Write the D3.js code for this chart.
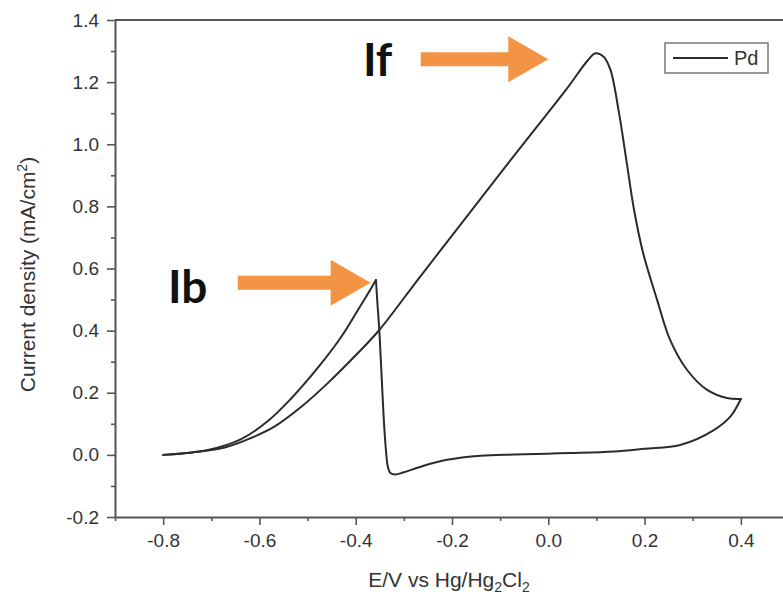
<!DOCTYPE html>
<html>
<head>
<meta charset="utf-8">
<script src="https://cdn.jsdelivr.net/npm/d3@7/dist/d3.min.js"></script>
<style>
  html, body { margin: 0; padding: 0; background: #fff; }
  svg { display: block; }
  .tick text { font-family: "Liberation Sans", Arial, sans-serif; fill: #333; }
</style>
</head>
<body>
<script>
// Cyclic voltammogram of a Pd electrode: potential (V vs Hg/Hg2Cl2) and current density (mA/cm2)
const forwardE = [-0.800, -0.740, -0.674, -0.618, -0.569, -0.513, -0.458, -0.396, -0.351, -0.272,
                  -0.190, -0.109, -0.030, 0.039, 0.081, 0.098, 0.115, 0.129, 0.147, 0.163,
                  0.178, 0.197, 0.226, 0.253, 0.288, 0.330, 0.371, 0.400];
const forwardJ = [0.000, 0.008, 0.023, 0.054, 0.091, 0.155, 0.231, 0.327, 0.402, 0.562,
                  0.726, 0.888, 1.044, 1.180, 1.268, 1.293, 1.282, 1.240, 1.100, 0.940,
                  0.790, 0.650, 0.499, 0.370, 0.274, 0.209, 0.183, 0.180];

const reverseE = [0.400, 0.378, 0.344, 0.274, 0.200, 0.136, 0.050, -0.002, -0.070, -0.140,
                  -0.210, -0.265, -0.300, -0.318, -0.328, -0.333, -0.338, -0.342, -0.347, -0.351,
                  -0.355, -0.358, -0.375, -0.396, -0.431, -0.479, -0.535, -0.583, -0.639, -0.707,
                  -0.800];
const reverseJ = [0.180, 0.123, 0.080, 0.032, 0.020, 0.011, 0.006, 0.004, 0.001, -0.003,
                  -0.016, -0.038, -0.056, -0.063, -0.058, -0.040, 0.030, 0.123, 0.280, 0.402,
                  0.490, 0.563, 0.518, 0.465, 0.378, 0.280, 0.180, 0.108, 0.050, 0.016,
                  0.000];

const xMajorTicks = [-0.8, -0.6, -0.4, -0.2, 0.0, 0.2, 0.4];
const xMinorTicks = [-0.9, -0.7, -0.5, -0.3, -0.1, 0.1, 0.3];
const yMajorTicks = [-0.2, 0.0, 0.2, 0.4, 0.6, 0.8, 1.0, 1.2, 1.4];
const yMinorTicks = [-0.1, 0.1, 0.3, 0.5, 0.7, 0.9, 1.1, 1.3];

const seriesName = "Pd";

// Peak annotations, anchored in data units
const peakLabels = [
  { text: "If", labelE: -0.385, labelJ: 1.22, fromE: -0.265, toE: 0.0, arrowJ: 1.274 },
  { text: "Ib", labelE: -0.790, labelJ: 0.49, fromE: -0.645, toE: -0.369, arrowJ: 0.554 }
];

const W = 783, H = 601;
const svg = d3.select("body").append("svg").attr("width", W).attr("height", H);

const x = d3.scaleLinear().domain([-0.9, 0.5]).range([115, 789]);
const y = d3.scaleLinear().domain([-0.2, 1.4]).range([517, 20]);

const axisColor = "#555";
const tickFont = 19;
const fmt = d => d3.format(".1f")(d).replace("−", "-");

// Frame top edge
svg.append("line")
  .attr("x1", x(-0.9)).attr("x2", W + 10)
  .attr("y1", y(1.4)).attr("y2", y(1.4))
  .attr("stroke", axisColor).attr("stroke-width", 2);

// Bottom axis
const gx = svg.append("g").attr("transform", `translate(0,${y(-0.2)})`);
gx.call(d3.axisBottom(x).tickValues(xMajorTicks).tickSize(8).tickSizeOuter(0).tickPadding(9)
  .tickFormat(fmt));
gx.selectAll(".tick text").attr("font-size", tickFont);
const gxm = svg.append("g").attr("transform", `translate(0,${y(-0.2)})`);
gxm.call(d3.axisBottom(x).tickValues(xMinorTicks).tickSize(4).tickSizeOuter(0).tickFormat(""));
gxm.select(".domain").remove();

// Left axis
const gy = svg.append("g").attr("transform", `translate(${x(-0.9)},0)`);
gy.call(d3.axisLeft(y).tickValues(yMajorTicks).tickSize(8).tickSizeOuter(0).tickPadding(8)
  .tickFormat(fmt));
gy.selectAll(".tick text").attr("font-size", tickFont);
const gym = svg.append("g").attr("transform", `translate(${x(-0.9)},0)`);
gym.call(d3.axisLeft(y).tickValues(yMinorTicks).tickSize(4).tickSizeOuter(0).tickFormat(""));
gym.select(".domain").remove();

svg.selectAll(".domain").attr("stroke", axisColor).attr("stroke-width", 2);
svg.selectAll(".tick line").attr("stroke", axisColor).attr("stroke-width", 1.6);

// Axis titles
const xTitle = svg.append("text")
  .attr("x", (x(-0.9) + W) / 2).attr("y", 587)
  .attr("text-anchor", "middle")
  .attr("font-family", "Liberation Sans, Arial, sans-serif")
  .attr("font-size", 21).attr("fill", "#333");
xTitle.append("tspan").text("E/V vs Hg/Hg");
xTitle.append("tspan").attr("font-size", 14).attr("dy", 5).text("2");
xTitle.append("tspan").attr("dy", -5).text("Cl");
xTitle.append("tspan").attr("font-size", 14).attr("dy", 5).text("2");

const yTitle = svg.append("text")
  .attr("transform", `translate(35,${(y(1.4) + y(-0.2)) / 2 + 6}) rotate(-90)`)
  .attr("text-anchor", "middle")
  .attr("font-family", "Liberation Sans, Arial, sans-serif")
  .attr("font-size", 21).attr("fill", "#333");
yTitle.append("tspan").text("Current density (mA/cm");
yTitle.append("tspan").attr("font-size", 14).attr("dy", -8).text("2");
yTitle.append("tspan").attr("dy", 8).text(")");

// Voltammogram curve: forward scan, then the reverse scan split at the Ib peak
const line = d3.line().x(d => x(d[0])).y(d => y(d[1])).curve(d3.curveCatmullRom.alpha(0.5));
const fwd = forwardE.map((e, i) => [e, forwardJ[i]]);
const rev = reverseE.map((e, i) => [e, reverseJ[i]]);
const ibIndex = d3.maxIndex(reverseJ);
const segments = [fwd, rev.slice(0, ibIndex + 1), rev.slice(ibIndex)];
svg.append("g").selectAll("path").data(segments).join("path")
  .attr("d", line)
  .attr("fill", "none").attr("stroke", "#2b2b2b").attr("stroke-width", 2)
  .attr("stroke-linejoin", "round").attr("stroke-linecap", "round");

// Legend
const lg = svg.append("g");
lg.append("rect").attr("x", 665).attr("y", 43).attr("width", 103).attr("height", 30)
  .attr("fill", "#fff").attr("stroke", "#777").attr("stroke-width", 1.5);
lg.append("line").attr("x1", 673).attr("x2", 728).attr("y1", 58).attr("y2", 58)
  .attr("stroke", "#2b2b2b").attr("stroke-width", 2);
lg.append("text").attr("x", 734).attr("y", 65)
  .attr("font-family", "Liberation Sans, Arial, sans-serif")
  .attr("font-size", 20).attr("fill", "#333").text(seriesName);

// Peak arrows and labels
const arrowColor = "#f29443";
const headLen = 40, headHalf = 23, shaftHalf = 7;
peakLabels.forEach(p => {
  const x0 = x(p.fromE), x1 = x(p.toE), yy = y(p.arrowJ);
  const pts = [
    [x0, yy - shaftHalf], [x1 - headLen, yy - shaftHalf], [x1 - headLen, yy - headHalf],
    [x1, yy], [x1 - headLen, yy + headHalf], [x1 - headLen, yy + shaftHalf], [x0, yy + shaftHalf]
  ];
  svg.append("polygon").attr("points", pts.map(q => q.join(",")).join(" "))
    .attr("fill", arrowColor);
  svg.append("text").attr("x", x(p.labelE)).attr("y", y(p.labelJ))
    .attr("font-family", "Lato, 'Open Sans', sans-serif").attr("font-weight", 700)
    .attr("font-size", 46).attr("fill", "#111").text(p.text);
});
</script>
</body>
</html>
